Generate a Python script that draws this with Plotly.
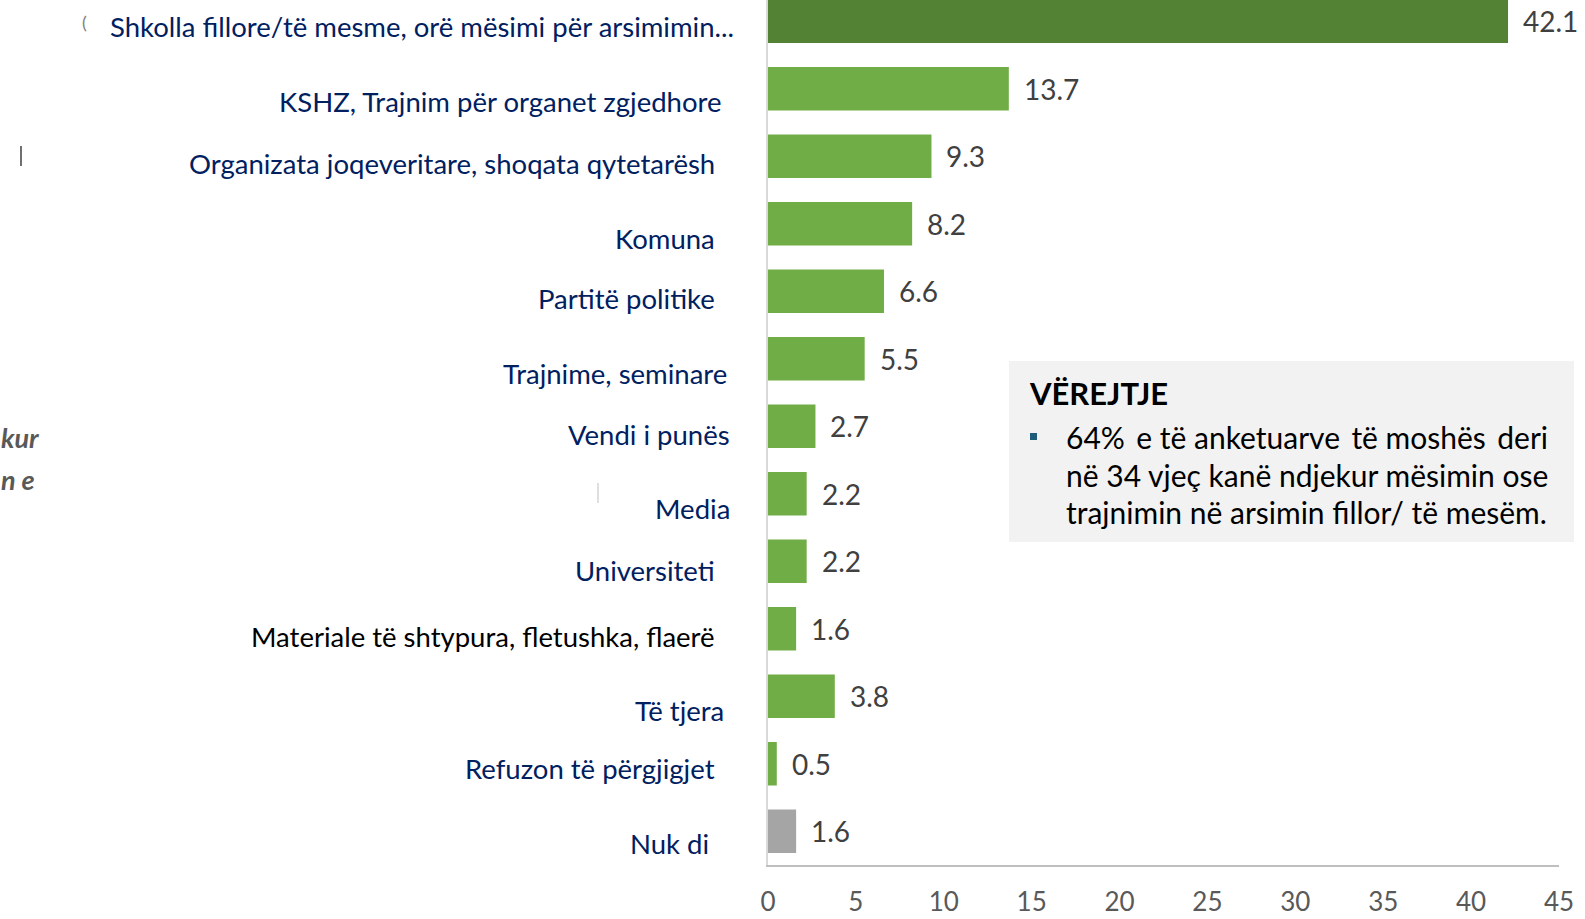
import plotly.graph_objects as go

categories = [
    "Shkolla fillore/të mesme, orë mësimi për arsimimin...",
    "KSHZ, Trajnim për organet zgjedhore",
    "Organizata joqeveritare, shoqata qytetarësh",
    "Komuna",
    "Partitë politike",
    "Trajnime, seminare",
    "Vendi i punës",
    "Media",
    "Universiteti",
    "Materiale të shtypura, fletushka, flaerë",
    "Të tjera",
    "Refuzon të përgjigjet",
    "Nuk di",
]
values = [42.1, 13.7, 9.3, 8.2, 6.6, 5.5, 2.7, 2.2, 2.2, 1.6, 3.8, 0.5, 1.6]
tick_values = [0, 5, 10, 15, 20, 25, 30, 35, 40, 45]

note_title = "VËREJTJE"
note_lines = [
    "64%\u2009 e të anketuarve\u2009 të moshës\u2009 deri",
    "në 34 vjeç kanë ndjekur mësimin ose",
    "trajnimin në arsimin fillor/ të mesëm.",
]
side_fragments = ["kur", "n e"]

# styling / layout (not data)
bar_colors = ["#548235"] + ["#70AD47"] * 11 + ["#A5A5A5"]
label_colors = ["#002060"] * 9 + ["#000000"] + ["#002060"] * 3
# per-label pixel offsets (right edge offset from axis, vertical shift)
label_dx = [-32, -44, -51, -51, -51, -39, -36, -36, -51, -51, -42, -51, -57]
label_dy = [-5, -13, -7, -15, -7, -15, -8, -15, -9, -8, -14, -5, -12]

FONT = "Lato"
W, H = 1585, 919
L, R, T, B = 768, 26, 0, 54
PW, PH = W - L - R, H - T - B


def fx(x):
    return (x - L) / PW


def fy(y):
    return (H - B - y) / PH


fig = go.Figure()
fig.add_trace(go.Bar(
    y=list(range(len(categories))),
    x=values,
    orientation="h",
    marker=dict(color=bar_colors, line=dict(width=0)),
    width=0.645,
    hoverinfo="skip",
))

annotations = []
for i, (c, v) in enumerate(zip(categories, values)):
    annotations.append(dict(
        x=0, y=i, xref="x", yref="y", text=c, showarrow=False,
        xanchor="right", yanchor="middle", xshift=label_dx[i], yshift=label_dy[i],
        font=dict(family=FONT, size=27.5, color=label_colors[i]),
    ))
    annotations.append(dict(
        x=v, y=i, xref="x", yref="y", text=f"{v:.1f}", showarrow=False,
        xanchor="left", yanchor="middle", xshift=13, yshift=0,
        font=dict(family=FONT, size=28, color="#404040"),
    ))

# note box
fig.add_shape(type="rect", xref="paper", yref="paper",
              x0=fx(1009), x1=fx(1574), y0=fy(542), y1=fy(361),
              fillcolor="#F2F2F2", line=dict(width=0), layer="below")
annotations.append(dict(
    x=fx(1027), y=fy(393), xref="paper", yref="paper",
    text=f"<b>{note_title}</b>", showarrow=False, xanchor="left", yanchor="middle",
    font=dict(family=FONT, size=31, color="#000000"),
))
line_y = [437, 475, 512]
for ly, t in zip(line_y, note_lines):
    annotations.append(dict(
        x=fx(1064), y=fy(ly), xref="paper", yref="paper",
        text=t, showarrow=False, xanchor="left", yanchor="middle",
        font=dict(family=FONT, size=30, color="#000000"),
    ))
fig.add_shape(type="rect", xref="paper", yref="paper",
              x0=fx(1030), x1=fx(1037), y0=fy(440), y1=fy(433),
              fillcolor="#1F5C7A", line=dict(width=0))

# stray fragments from the source document (left edge)
for fy_px, t in zip([437, 479], side_fragments):
    annotations.append(dict(
        x=fx(0), y=fy(fy_px), xref="paper", yref="paper",
        text=f"<b><i>{t}</i></b>", showarrow=False, xanchor="left", yanchor="middle",
        borderpad=0,
        font=dict(family=FONT, size=27, color="#595959"),
    ))
annotations.append(dict(
    x=fx(84), y=fy(22), xref="paper", yref="paper",
    text="(", showarrow=False, xanchor="center", yanchor="middle",
    font=dict(family=FONT, size=18, color="#808080"),
))
fig.add_shape(type="line", xref="paper", yref="paper",
              x0=fx(21), x1=fx(21), y0=fy(166), y1=fy(146),
              line=dict(color="#707070", width=2))
fig.add_shape(type="line", xref="paper", yref="paper",
              x0=fx(598), x1=fx(598), y0=fy(503), y1=fy(483),
              line=dict(color="#BFBFBF", width=1))

fig.update_layout(
    width=W, height=H,
    margin=dict(l=L, r=R, t=T, b=B, pad=0),
    paper_bgcolor="white", plot_bgcolor="white",
    showlegend=False,
    annotations=annotations,
    xaxis=dict(
        range=[0, 45], tickvals=tick_values, ticktext=[str(t) for t in tick_values],
        showgrid=False, zeroline=False,
        showline=True, linecolor="#BFBFBF", linewidth=2,
        ticks="", ticklabelstandoff=13,
        tickfont=dict(family=FONT, size=26, color="#595959"),
        automargin=False,
    ),
    yaxis=dict(
        range=[12.5, -0.314], showticklabels=False, showgrid=False, zeroline=False,
        showline=True, linecolor="#D9D9D9", linewidth=2, ticks="",
        automargin=False,
    ),
)

fig.write_html(
    "out.html",
    config={"displayModeBar": False},
    post_script="document.body.style.margin='0';document.body.style.overflow='hidden';",
)
